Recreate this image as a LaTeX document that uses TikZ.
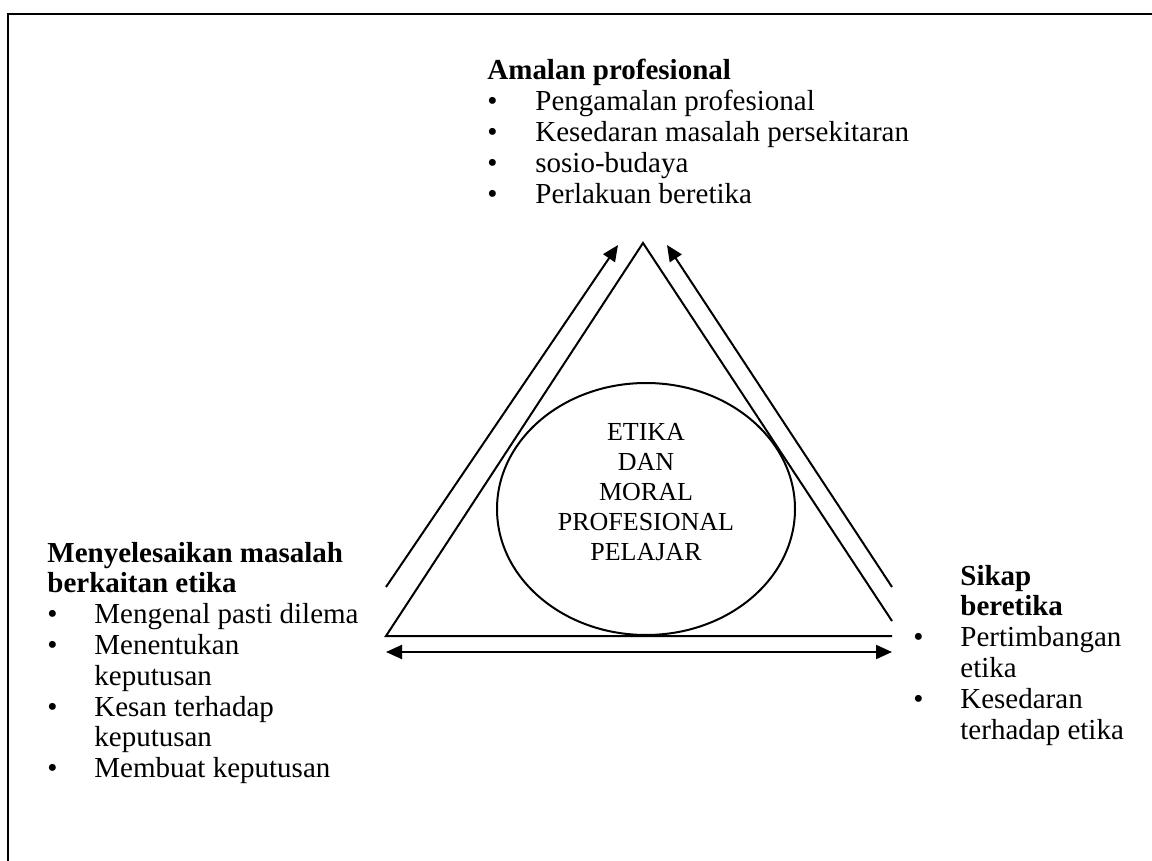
\documentclass[tikz,border=0pt]{standalone}
\usepackage{fontspec}
\setmainfont{Liberation Serif}
\usetikzlibrary{arrows.meta,positioning}

\tikzset{
  garis/.style={line width=1pt},
  panah/.style={line width=1pt, ->},
  blok/.style={inner sep=0pt, anchor=base west, align=left,
    font=\fontsize{14.5}{15.4}\selectfont},
  pusat/.style={inner sep=0pt, align=center,
    font=\fontsize{13}{15}\selectfont}
}

\begin{document}
\begin{tikzpicture}[x=0.5pt,y=-0.5pt,>={Triangle[length=8pt,width=7pt]}]
\useasboundingbox (0,0) rectangle (1152,861);
% kerangka
\draw[garis] (1152,14) -- (8,14) -- (8,861);

% segitiga
\coordinate (puncak) at (643,243);
\coordinate (kiri) at (386,636);
\coordinate (kanan) at (892,636);
\coordinate (kananatas) at (892,621);
\draw[garis] (kananatas) -- (puncak) -- (kiri) -- (kanan);

% bulatan tengah
\draw[garis] (646,509) ellipse [x radius=74.5pt, y radius=63pt];
\node[pusat] (etika) at (646,492) {ETIKA\\DAN\\MORAL\\PROFESIONAL\\PELAJAR};

% anak panah
\coordinate (kiria) at (386,587);
\coordinate (kirib) at (618,245);
\coordinate (kanana) at (892,587);
\coordinate (kananb) at (667,245);
\coordinate (bawaha) at (386,652);
\coordinate (bawahb) at (892,652);
\draw[panah] (kiria) -- (kirib);
\draw[panah] (kanana) -- (kananb);
\draw[panah,<->] (bawaha) -- (bawahb);

% teks
\node[blok] (amalan) at (487,80) {\begin{tabular}[t]{@{}p{24pt}@{}l@{}}
\multicolumn{2}{@{}l@{}}{\textbf{Amalan profesional}}\\
\textbullet & Pengamalan profesional\\
\textbullet & Kesedaran masalah persekitaran\\
\textbullet & sosio-budaya\\
\textbullet & Perlakuan beretika
\end{tabular}};

\node[blok] (masalah) at (47,562) {\begin{tabular}[t]{@{}p{23.5pt}@{}l@{}}
\multicolumn{2}{@{}l@{}}{\textbf{Menyelesaikan masalah}}\\
\multicolumn{2}{@{}l@{}}{\textbf{berkaitan etika}}\\
\textbullet & Mengenal pasti dilema\\
\textbullet & Menentukan\\
 & keputusan\\
\textbullet & Kesan terhadap\\
 & keputusan\\
\textbullet & Membuat keputusan
\end{tabular}};

\node[blok] (sikap) at (913,585) {\begin{tabular}[t]{@{}p{23.5pt}@{}l@{}}
 & \textbf{Sikap}\\
 & \textbf{beretika}\\
\textbullet & Pertimbangan\\
 & etika\\
\textbullet & Kesedaran\\
 & terhadap etika
\end{tabular}};
\end{tikzpicture}
\end{document}
